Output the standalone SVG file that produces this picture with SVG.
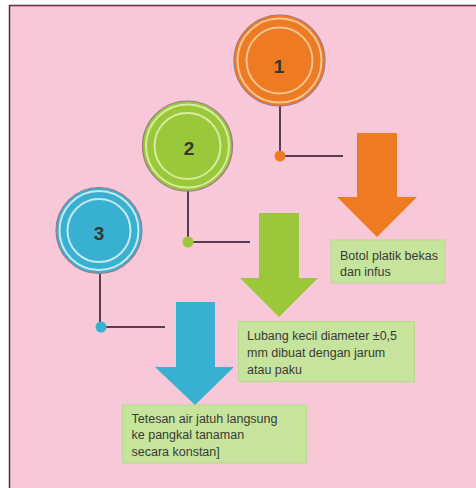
<svg xmlns="http://www.w3.org/2000/svg" width="476" height="488" viewBox="0 0 476 488">
<style>
.lbl{font-family:"Liberation Sans",Arial,sans-serif;font-size:12.5px;fill:#3a3a36}
.num{font-family:"Liberation Sans",Arial,sans-serif;font-size:19px;font-weight:bold;fill:#3a3530;text-anchor:middle;dominant-baseline:central}
.box{fill:#c6e49c;stroke:#b8d890;stroke-width:1}
.conn{stroke:#5a3c56;stroke-width:2;fill:none}
.rim{fill:none;stroke:#a07a88;stroke-width:1.2}
</style>
<rect x="0" y="0" width="476" height="488" fill="#ffffff"/>
<rect x="9" y="5" width="467" height="483" fill="#f9c8d8"/>
<line x1="9" y1="5.5" x2="476" y2="5.5" stroke="#6a2a48" stroke-width="1.5"/>
<line x1="9.5" y1="5" x2="9.5" y2="488" stroke="#5a2a40" stroke-width="1.5"/>

<g id="connectors">
<polyline class="conn" points="280,106 280,156 343,156"/>
<polyline class="conn" points="188,191 188,242 250,242"/>
<polyline class="conn" points="100,274 100,327 165,327"/>
<circle cx="280" cy="156" r="5.5" fill="#ee7b22"/>
<circle cx="188" cy="242" r="5.5" fill="#9ac83a"/>
<circle cx="101" cy="327" r="5.5" fill="#38b0d2"/>
</g>

<g id="node1">
<circle cx="279.5" cy="60.5" r="45.5" fill="#ee7b22"/>
<circle class="rim" cx="279.5" cy="60.5" r="45.5"/>
<circle cx="279.5" cy="60.5" r="42" fill="none" stroke="#f8c493" stroke-width="2"/>
<circle cx="279.5" cy="60.5" r="33" fill="none" stroke="#f8c493" stroke-width="2"/>
<text class="num" x="279" y="66">1</text>
</g>

<g id="node2">
<circle cx="187.5" cy="146" r="45" fill="#9ac83a"/>
<circle class="rim" cx="187.5" cy="146" r="45"/>
<circle cx="187.5" cy="146" r="41.5" fill="none" stroke="#d8eca0" stroke-width="2"/>
<circle cx="187.5" cy="146" r="33" fill="none" stroke="#d8eca0" stroke-width="2"/>
<text class="num" x="189" y="148">2</text>
</g>

<g id="node3">
<circle cx="99" cy="230.5" r="43" fill="#38b0d2"/>
<circle class="rim" cx="99" cy="230.5" r="43"/>
<circle cx="99" cy="230.5" r="39.5" fill="none" stroke="#c6e8f2" stroke-width="2"/>
<circle cx="99" cy="230.5" r="31.5" fill="none" stroke="#c6e8f2" stroke-width="2"/>
<text class="num" x="99" y="233">3</text>
</g>

<g id="arrow1">
<polygon points="357,133 397,133 397,197 417,197 377,237 337,197 357,197" fill="#ee7b22"/>
</g>
<g id="arrow2">
<polygon points="259,213 299,213 299,278 318,278 279,317 240,278 259,278" fill="#9ac83a"/>
</g>
<g id="arrow3">
<polygon points="176,302 215,302 215,367 234,367 195,405 155,367 176,367" fill="#38b0d2"/>
</g>

<g id="box1">
<rect class="box" x="331" y="240" width="114" height="43"/>
<text class="lbl" x="340" y="259.5">Botol platik bekas</text>
<text class="lbl" x="340" y="276">dan infus</text>
</g>
<g id="box2">
<rect class="box" x="238.5" y="321.5" width="176" height="60"/>
<text class="lbl" x="247" y="340">Lubang kecil diameter ±0,5</text>
<text class="lbl" x="247" y="357">mm dibuat dengan jarum</text>
<text class="lbl" x="247" y="373.5">atau paku</text>
</g>
<g id="box3">
<rect class="box" x="122.5" y="405" width="184" height="58"/>
<text class="lbl" x="131.5" y="422.5">Tetesan air jatuh langsung</text>
<text class="lbl" x="131.5" y="439">ke pangkal tanaman</text>
<text class="lbl" x="131.5" y="455.5">secara konstan]</text>
</g>
</svg>
